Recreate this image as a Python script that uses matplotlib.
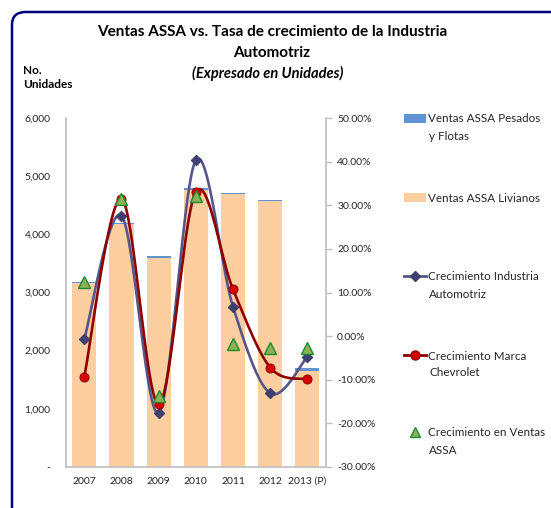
import numpy as np
import matplotlib
matplotlib.use("Agg")
import matplotlib.pyplot as plt
from matplotlib.patches import FancyBboxPatch, Patch
from matplotlib.lines import Line2D
from matplotlib.ticker import FuncFormatter, FixedLocator

# ---------------- data ----------------
years = ["2007", "2008", "2009", "2010", "2011", "2012", "2013 (P)"]
livianos = [3160, 4170, 3600, 4770, 4690, 4570, 1650]
pesados = [20, 20, 20, 20, 20, 20, 50]
crec_industria = [-0.7, 27.6, -17.6, 40.3, 6.7, -13.1, -4.7]
crec_chevrolet = [-9.3, 31.5, -15.6, 33.1, 10.7, -7.2, -9.9]
crec_assa = [12.5, 31.4, -13.8, 32.2, -1.9, -2.7, -2.7]

left_ticks = [0, 1000, 2000, 3000, 4000, 5000, 6000]
right_ticks = [-30, -20, -10, 0, 10, 20, 30, 40, 50]

FONT = ["Lato", "DejaVu Sans"]
plt.rcParams["font.family"] = FONT

C_ORANGE = "#FDCFA0"
C_BLUE = "#6293D3"
C_IND = "#56568A"
C_IND_MK = "#3F3F70"
C_CHEV = "#8E0000"
C_CHEV_MK = "#D40000"
C_TRI = "#8DB255"
C_TRI_EDGE = "#1E8A2E"
GRAY = "#BFBFBF"
TXT = "#262626"


def smooth(xs, ys, n=40):
    """Catmull-Rom (Excel-like) smoothing through the given points."""
    xs = np.asarray(xs, float)
    ys = np.asarray(ys, float)
    P = np.column_stack([xs, ys])
    out = []
    for i in range(len(P) - 1):
        p0 = P[i - 1] if i > 0 else P[i]
        p1 = P[i]
        p2 = P[i + 1]
        p3 = P[i + 2] if i + 2 < len(P) else P[i + 1]
        c1 = p1 + (p2 - p0) / 6.0
        c2 = p2 - (p3 - p1) / 6.0
        t = np.linspace(0, 1, n)[:, None]
        seg = ((1 - t) ** 3) * p1 + 3 * ((1 - t) ** 2) * t * c1 + 3 * (1 - t) * t ** 2 * c2 + t ** 3 * p2
        out.append(seg if i == 0 else seg[1:])
    seg = np.vstack(out)
    return seg[:, 0], seg[:, 1]


W, H = 551, 508
fig = plt.figure(figsize=(W / 100, H / 100), dpi=100)

# outer rounded frame (cut by the image edges)
frame = FancyBboxPatch((12 / W, -40 / H), 600 / W, (508 - 12 + 40) / H,
                       boxstyle="round,pad=0,rounding_size=0.025",
                       transform=fig.transFigure, facecolor="white",
                       edgecolor="#000080", linewidth=1.8, zorder=-10)
fig.patches.append(frame)

ax = fig.add_axes([65.7 / W, 41 / H, 260.3 / W, 349 / H])
ax.set_facecolor("none")
ax2 = ax.twinx()

x = np.arange(len(years))
ax.bar(x, livianos, width=0.65, color=C_ORANGE, zorder=1)
ax.bar(x, pesados, width=0.65, bottom=livianos, color=C_BLUE, zorder=1)

ax.set_xlim(-0.5, len(years) - 0.5)
ax.set_ylim(0, 6000)
ax.yaxis.set_major_locator(FixedLocator(left_ticks))
ax.yaxis.set_major_formatter(FuncFormatter(lambda v, p: "-" if v == 0 else f"{int(v):,}"))
ax.set_xticks(x)
ax.set_xticklabels(years)
ax.tick_params(axis="x", length=0, pad=7, labelsize=7.5, labelcolor=TXT)
ax.tick_params(axis="y", length=0, pad=11, labelsize=7.5, labelcolor=TXT)
for s in ["top", "right"]:
    ax.spines[s].set_visible(False)
for s in ["left", "bottom"]:
    ax.spines[s].set_color(GRAY)
    ax.spines[s].set_linewidth(1.2)

# lines on secondary axis
sx, sy = smooth(x, crec_industria)
ax2.plot(sx, sy, color=C_IND, lw=1.9, zorder=3)
ax2.plot(x, crec_industria, ls="none", marker="D", ms=5.5, color=C_IND_MK, zorder=4)
sx, sy = smooth(x, crec_chevrolet)
ax2.plot(sx, sy, color=C_CHEV, lw=1.9, zorder=3)
ax2.plot(x, crec_chevrolet, ls="none", marker="o", ms=6.5, color=C_CHEV_MK,
         markeredgecolor="#9A0000", markeredgewidth=0.7, zorder=5)
ax2.plot(x, crec_assa, ls="none", marker="^", ms=8, color=C_TRI,
         markeredgecolor=C_TRI_EDGE, markeredgewidth=1.0, zorder=6)

ax2.set_ylim(-30, 50)
ax2.yaxis.set_major_locator(FixedLocator(right_ticks))
ax2.yaxis.set_major_formatter(FuncFormatter(lambda v, p: f"{v:.2f}%"))
ax2.tick_params(axis="y", length=4, width=1, color=GRAY, pad=4, labelsize=7.5, labelcolor=TXT)
for s in ["top", "left", "bottom"]:
    ax2.spines[s].set_visible(False)
ax2.spines["right"].set_color(GRAY)
ax2.spines["right"].set_linewidth(1.2)

# titles
fig.text(272 / W, 1 - 32 / H, "Ventas ASSA vs. Tasa de crecimiento de la Industria",
         ha="center", va="center", fontsize=11, fontweight="bold", color="black")
fig.text(272 / W, 1 - 53 / H, "Automotriz", ha="center", va="center",
         fontsize=11, fontweight="bold", color="black")
fig.text(268 / W, 1 - 73 / H, "(Expresado en Unidades)", ha="center", va="center",
         fontsize=10.5, fontweight="bold", fontstyle="italic", color="black")
fig.text(23 / W, 1 - 70 / H, "No.", ha="left", va="center", fontsize=8.5,
         fontweight="bold", color="black")
fig.text(23 / W, 1 - 85 / H, "Unidades", ha="left", va="center", fontsize=8.5,
         fontweight="bold", color="black")

# legend entries (each placed individually to reproduce the spacing)
LFS = 8.4
entries = [
    (Patch(facecolor=C_BLUE), "Ventas ASSA Pesados", "y Flotas", 119),
    (Patch(facecolor=C_ORANGE), "Ventas ASSA Livianos", None, 198),
    (Line2D([], [], color=C_IND, lw=2, marker="D", ms=5, markerfacecolor=C_IND_MK,
            markeredgecolor=C_IND_MK), "Crecimiento Industria", "Automotriz", 277),
    (Line2D([], [], color=C_CHEV, lw=2, marker="o", ms=6.5, markerfacecolor=C_CHEV_MK,
            markeredgecolor="#9A0000"), "Crecimiento Marca", "Chevrolet", 356),
    (Line2D([], [], ls="none", marker="^", ms=7, markerfacecolor=C_TRI,
            markeredgecolor=C_TRI_EDGE), "Crecimiento en Ventas", "ASSA", 433),
]
for h, lab1, lab2, ypix in entries:
    fig.legend([h], [lab1], loc="center left",
               bbox_to_anchor=(404 / W, 1 - ypix / H),
               frameon=False, fontsize=LFS, handlelength=1.9, handletextpad=0.2,
               borderpad=0, borderaxespad=0, labelcolor=TXT)
    if lab2:
        fig.text(429 / W, 1 - (ypix + 17) / H, lab2, ha="left", va="center",
                 fontsize=LFS, color=TXT)

fig.savefig("out.png", dpi=100)
